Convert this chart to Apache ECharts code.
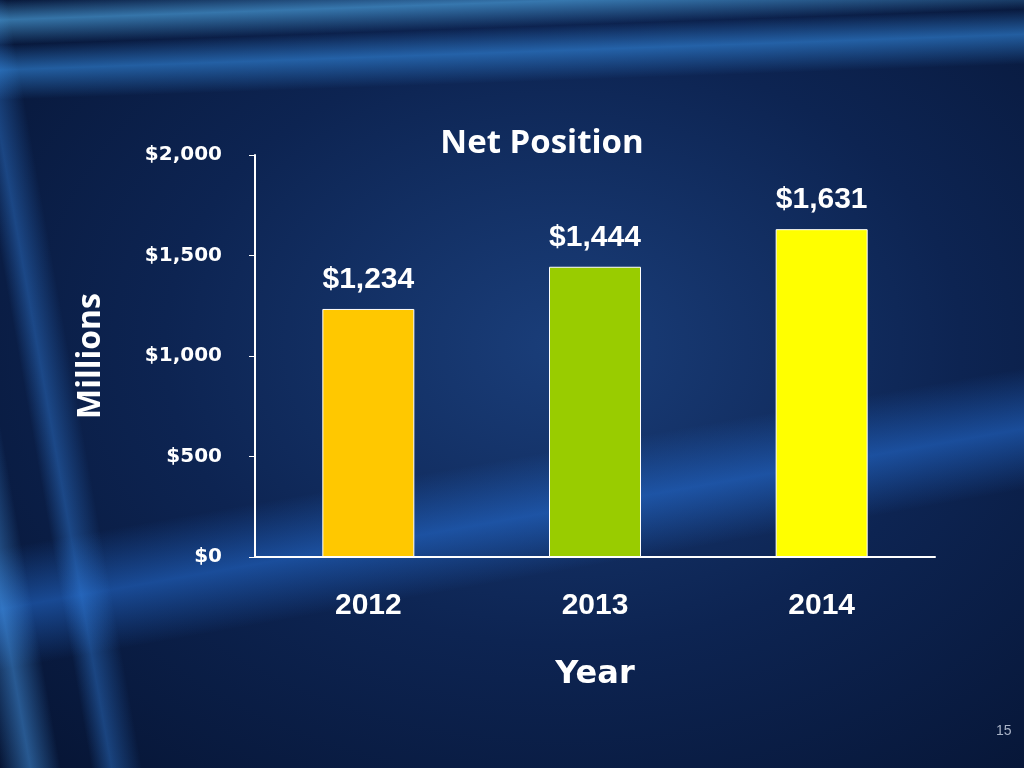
<!DOCTYPE html>
<html><head><meta charset="utf-8">
<script src="https://cdn.jsdelivr.net/npm/echarts@6/dist/echarts.min.js"></script>
<style>
html,body{margin:0;padding:0;width:1024px;height:768px;overflow:hidden;}
body{background:
 linear-gradient(178deg, rgba(0,0,0,0) 0px, rgba(90,190,255,0.55) 20px, rgba(0,0,0,0) 45px, rgba(60,160,255,0.5) 70px, rgba(0,0,0,0) 100px),
 linear-gradient(80deg, rgba(0,0,0,0) 0px, rgba(80,170,255,0.45) 30px, rgba(0,0,0,0) 60px, rgba(0,0,0,0) 90px, rgba(60,150,255,0.35) 110px, rgba(0,0,0,0) 140px),
 linear-gradient(170deg, rgba(0,0,0,0) 540px, rgba(40,120,230,0.5) 600px, rgba(0,0,0,0) 660px),
 radial-gradient(ellipse at 55% 45%, #1a3e7a 0%, #0d2452 50%, #061433 100%);}
#c{width:1024px;height:768px;}
</style></head><body>
<div id="c"></div>
<script>
const categories = ['2012','2013','2014'];
const values = [1234, 1444, 1631];
const colors = ['#ffc800','#99cc00','#ffff00'];
const yTicks = [0,500,1000,1500,2000];
const chart = echarts.init(document.getElementById('c'));
chart.setOption({
  backgroundColor:'transparent',
  title:{text:'Net Position',left:537,top:122,textAlign:'center',textStyle:{color:'#fff',fontSize:33,fontWeight:'bold',fontFamily:'Open Sans, sans-serif'}},
  grid:{left:255,right:89,top:155,bottom:211},
  xAxis:{type:'category',data:categories,name:'Year',nameLocation:'middle',nameGap:102,
    nameTextStyle:{color:'#fff',fontSize:32,fontWeight:'bold',fontFamily:'DejaVu Sans'},
    axisLine:{lineStyle:{color:'#fff',width:2}},axisTick:{show:false},
    axisLabel:{color:'#fff',fontSize:30,fontWeight:'bold',fontFamily:'Liberation Sans',margin:34}},
  yAxis:{type:'value',min:0,max:2000,interval:500,name:'Millions',nameLocation:'middle',nameGap:148,nameRotate:90,
    nameTextStyle:{color:'#fff',fontSize:32,fontWeight:'bold',fontFamily:'Open Sans'},
    axisLine:{show:true,lineStyle:{color:'#fff',width:2}},axisTick:{show:true,length:6,lineStyle:{color:'#fff'}},
    splitLine:{show:false},
    axisLabel:{color:'#fff',fontSize:20,fontWeight:'bold',fontFamily:'DejaVu Sans',margin:33,
      formatter:v=>yTicks.includes(v)?'$'+v.toLocaleString('en-US'):''}},
  series:[{type:'bar',barWidth:92,
    data:values.map((v,i)=>({value:v,itemStyle:{color:colors[i],borderColor:'#fff',borderWidth:1}})),
    label:{show:true,position:'top',distance:14,color:'#fff',fontSize:30,fontWeight:'bold',fontFamily:'Liberation Sans',
      formatter:p=>'$'+p.value.toLocaleString('en-US')}}],
  graphic:[{type:'text',left:996,top:724,style:{text:'15',fill:'#aab4c8',fontSize:14,fontFamily:'Liberation Sans'}}]
});
</script></body></html>
